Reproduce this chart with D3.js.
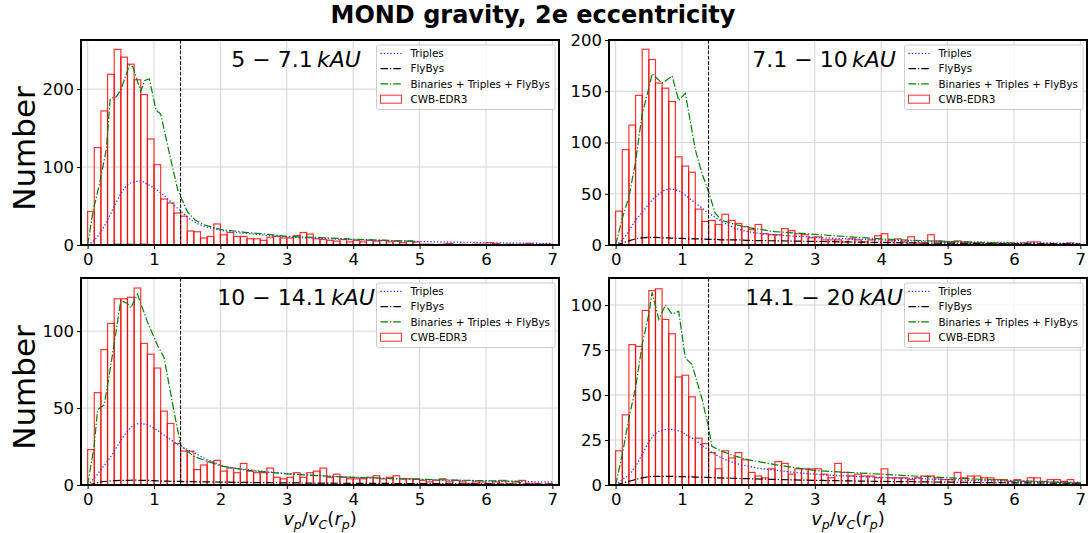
<!DOCTYPE html>
<html>
<head>
<meta charset="utf-8">
<script src="https://cdn.jsdelivr.net/npm/d3@7"></script>
<style>
  body { margin: 0; background: #fff; }
  svg { font-family: "DejaVu Sans", sans-serif; }
</style>
</head>
<body>
<div id="chart"></div>
<script>
// ---- data ----
var figTitle = "MOND gravity, 2e eccentricity";
var legendLabels = ["Triples", "FlyBys", "Binaries + Triples + FlyBys", "CWB-EDR3"];
var xTicks = [0, 1, 2, 3, 4, 5, 6, 7];
var binWidth = 0.1;     // histogram bins start at 0
var cutX = 1.4;         // vertical dashed line

// x positions of the model curves (Triples, FlyBys)
var lineX = [0, 0.1, 0.2, 0.3, 0.4, 0.5, 0.6, 0.7, 0.8, 0.9, 1.0, 1.1, 1.2, 1.3, 1.4, 1.5, 1.6, 1.8, 2.0,
             2.5, 3.0, 3.5, 4.0, 4.5, 5.0, 5.5, 6.0, 6.5, 7.0];

// 5 - 7.1 kAU
var tlRange = ["5", "7.1"];
var tlYTicks = [0, 100, 200];
var tlCounts = [43, 125, 172, 219, 251, 241, 232, 212, 193, 136,
                103, 59, 54, 41, 37, 18, 17, 9, 11, 27,
                13, 16, 11, 11, 8, 8, 6, 10, 11, 9,
                9, 12, 16, 14, 8, 7, 6, 5, 7, 4,
                6, 4, 6, 5, 6, 4, 5, 3, 5, 4,
                1, 1, 0, 1, 2, 0, 1, 0, 1, 1,
                3, 2, 0, 1, 0, 1, 2, 0, 1, 1];
var tlTriples = [0, 6, 17, 32, 49, 66, 77, 81, 82, 78, 73, 67, 60, 51, 44, 36, 30, 23, 19,
                 14, 10.5, 8.5, 6.8, 5.5, 4.5, 3.7, 3, 2.5, 2];
var tlFlybys = [0, 0.3, 0.5, 0.6, 0.7, 0.7, 0.7, 0.7, 0.7, 0.7, 0.6, 0.6, 0.6, 0.5, 0.5, 0.5, 0.5, 0.4, 0.4,
                0.4, 0.3, 0.3, 0.3, 0.2, 0.2, 0.2, 0.2, 0.1, 0.1];
var tlTotalX = [0, 0.08, 0.18, 0.28, 0.34, 0.43, 0.5, 0.63, 0.68, 0.8, 0.86, 0.93, 1.03, 1.1, 1.23, 1.36,
                1.5, 1.62, 1.75, 2.0, 2.4, 2.8, 3.0, 3.5, 4.0, 4.5, 4.9, 4.95, 7.0];
var tlTotal = [0, 43, 79, 122, 188, 190, 199, 231, 229, 197, 211, 213, 173, 168, 118, 70,
               43, 32, 26, 20, 16, 13, 11, 9.5, 7.5, 6, 5, 0, 0];

// 7.1 - 10 kAU
var trRange = ["7.1", "10"];
var trYTicks = [0, 50, 100, 150, 200];
var trCounts = [33, 93, 117, 146, 191, 181, 158, 153, 140, 86,
                77, 71, 35, 23, 24, 20, 30, 24, 21, 18,
                15, 20, 11, 10, 10, 16, 14, 11, 10, 7,
                8, 5, 5, 5, 3, 6, 5, 3, 5, 9,
                11, 4, 6, 3, 8, 2, 2, 10, 4, 3,
                3, 4, 3, 2, 2, 1, 2, 2, 1, 2,
                1, 2, 3, 3, 1, 1, 0, 1, 2, 0];
var trTriples = [0, 5, 14, 24, 32, 40, 47, 52, 54.5, 54, 51, 46, 41, 36, 31, 27, 23, 16.5, 13,
                 9.5, 7.5, 6, 5, 4, 3.3, 2.8, 2.3, 2, 1.6];
var trFlybys = [0, 2, 4, 6, 7, 7.5, 7.5, 7, 7, 6.5, 6.5, 6, 6, 6, 5.5, 5.5, 5, 5, 4.5,
                4, 3.5, 3, 2.5, 2, 1.8, 1.5, 1.3, 1.1, 1];
var trTotalX = [0, 0.1, 0.2, 0.3, 0.4, 0.5, 0.55, 0.7, 0.75, 0.85, 0.95, 1.05, 1.2, 1.3, 1.4, 1.5,
                1.6, 1.8, 2.0, 2.4, 2.8, 3.0, 3.5, 4.0, 4.5, 5.0, 5.5, 6.0, 6.1, 7.0];
var trTotal = [0, 26, 47, 81, 128, 153, 167, 158, 160, 165, 141, 148, 93, 70, 52, 31,
               24, 20, 17, 13, 11.4, 10.4, 8, 6, 4.5, 3.5, 2.5, 1.6, 0, 0];

// 10 - 14.1 kAU
var blRange = ["10", "14.1"];
var blYTicks = [0, 50, 100];
var blCounts = [23, 60, 88, 105, 121, 121, 122, 128, 92, 85,
                76, 48, 40, 27, 22, 22, 10, 13, 15, 16,
                9, 11, 8, 14, 9, 8, 8, 11, 5, 4,
                5, 8, 5, 8, 9, 11, 5, 7, 5, 4,
                4, 4, 5, 6, 4, 5, 6, 4, 4, 4,
                3, 2, 3, 4, 2, 3, 2, 1, 2, 2,
                1, 2, 3, 1, 2, 3, 1, 1, 0, 1];
var blTriples = [0, 4.5, 10, 15.5, 22, 29, 35, 39, 40, 39, 37, 34, 31, 28, 25, 23, 21, 16.5, 13,
                 9.5, 7.5, 6, 5, 4.2, 3.6, 3, 2.6, 2.2, 2];
var blFlybys = [0, 1, 2, 2.5, 2.8, 3, 3, 3.2, 3, 3, 2.8, 2.6, 2.5, 2.4, 2.3, 2.2, 2.1, 2, 1.9,
                1.6, 1.4, 1.2, 1.1, 1, 0.9, 0.8, 0.7, 0.6, 0.5];
var blTotalX = [0, 0.1, 0.15, 0.25, 0.35, 0.5, 0.6, 0.65, 0.75, 0.9, 1.05, 1.15, 1.3, 1.4, 1.45,
                1.6, 1.8, 2.0, 2.4, 2.8, 3.0, 3.5, 4.0, 4.5, 5.0, 5.5, 6.0, 6.5, 6.55, 7.0];
var blTotal = [0, 26, 49, 52, 78, 120, 118, 115, 124, 106, 91, 83, 48, 26, 24,
               18.6, 15.4, 12.5, 9.5, 8, 7.2, 6, 5, 4.3, 3.7, 3.2, 2.8, 2.4, 0, 0];

// 14.1 - 20 kAU
var brRange = ["14.1", "20"];
var brYTicks = [0, 25, 50, 75, 100];
var brCounts = [19, 39, 78, 77, 97, 108, 109, 92, 84, 60,
                61, 49, 26, 23, 18, 9, 19, 15, 18, 14,
                7, 5, 4, 9, 13, 12, 6, 9, 9, 9,
                9, 6, 4, 12, 7, 5, 6, 5, 5, 4,
                9, 4, 4, 4, 3, 4, 5, 5, 4, 3,
                3, 7, 4, 5, 5, 4, 4, 3, 3, 2,
                3, 2, 4, 4, 2, 3, 3, 2, 3, 1];
var brTriples = [0, 3, 5.8, 10.4, 17, 24, 28.5, 30.5, 31, 30.5, 29.4, 27, 25, 22, 19.6, 17, 15, 12.2, 10.4,
                 7.8, 6, 5, 4.2, 3.6, 3, 2.5, 2.1, 1.8, 1.5];
var brFlybys = [0, 1, 2, 3, 4, 4.6, 4.8, 4.8, 4.8, 4.7, 4.6, 4.5, 4.4, 4.3, 4.2, 4, 3.9, 3.7, 3.5,
                3, 2.6, 2.3, 2, 1.8, 1.6, 1.4, 1.2, 1.1, 1];
var brTotalX = [0, 0.1, 0.2, 0.3, 0.4, 0.5, 0.55, 0.65, 0.75, 0.85, 0.95, 1.05, 1.15, 1.3, 1.4, 1.45,
                1.6, 1.8, 2.0, 2.4, 2.8, 3.0, 3.5, 4.0, 4.5, 5.0, 5.5, 6.0, 6.5, 7.0];
var brTotal = [0, 17, 37, 54, 78, 95, 107, 92, 100, 95, 96.5, 70.5, 67, 48, 32, 21.5,
               18.7, 16, 14, 11.3, 9.1, 8, 7, 6, 5, 4, 3.2, 2.5, 1.8, 1];

// ---- layout ----
var W = 1088, H = 533;
var panels = [
  {id: "tl", left: 81, right: 559, top: 40, bottom: 245, ymax: 263, yTicks: tlYTicks, counts: tlCounts,
   triples: tlTriples, flybys: tlFlybys, totalX: tlTotalX, total: tlTotal, range: tlRange, ylab: true, xlab: false},
  {id: "tr", left: 609, right: 1087, top: 40, bottom: 245, ymax: 200, yTicks: trYTicks, counts: trCounts,
   triples: trTriples, flybys: trFlybys, totalX: trTotalX, total: trTotal, range: trRange, ylab: false, xlab: false},
  {id: "bl", left: 81, right: 559, top: 278, bottom: 485, ymax: 134.5, yTicks: blYTicks, counts: blCounts,
   triples: blTriples, flybys: blFlybys, totalX: blTotalX, total: blTotal, range: blRange, ylab: true, xlab: true},
  {id: "br", left: 609, right: 1087, top: 278, bottom: 485, ymax: 115, yTicks: brYTicks, counts: brCounts,
   triples: brTriples, flybys: brFlybys, totalX: brTotalX, total: brTotal, range: brRange, ylab: false, xlab: true}
];

var svg = d3.select("#chart").append("svg")
  .attr("width", W)
  .attr("height", H);

svg.append("text")
  .attr("x", 533)
  .attr("y", 23)
  .attr("text-anchor", "middle")
  .style("font-weight", "bold")
  .style("font-size", "24px")
  .text(figTitle);

function drawPanel(p) {
  var x = d3.scaleLinear().domain([-0.1, 7.1]).range([p.left, p.right]);
  var y = d3.scaleLinear().domain([0, p.ymax]).range([p.bottom, p.top]);
  var g = svg.append("g");

  svg.append("clipPath").attr("id", "clip-" + p.id)
    .append("rect")
    .attr("x", p.left).attr("y", p.top)
    .attr("width", p.right - p.left).attr("height", p.bottom - p.top);

  // grid
  g.selectAll(".vgrid").data(xTicks).enter().append("line")
    .attr("x1", function(d) { return x(d); }).attr("x2", function(d) { return x(d); })
    .attr("y1", p.top).attr("y2", p.bottom)
    .style("stroke", "#d3d3d3").style("stroke-width", 1);
  g.selectAll(".hgrid").data(p.yTicks).enter().append("line")
    .attr("x1", p.left).attr("x2", p.right)
    .attr("y1", function(d) { return y(d); }).attr("y2", function(d) { return y(d); })
    .style("stroke", "#d3d3d3").style("stroke-width", 1);

  var plot = g.append("g").attr("clip-path", "url(#clip-" + p.id + ")");

  // histogram (unfilled bars)
  plot.selectAll("rect.bar").data(p.counts).enter().append("rect")
    .attr("class", "bar")
    .attr("x", function(d, i) { return x(i * binWidth); })
    .attr("width", x(binWidth) - x(0))
    .attr("y", function(d) { return y(d); })
    .attr("height", function(d) { return y(0) - y(d); })
    .style("fill", "none")
    .style("stroke", "#ff0000")
    .style("stroke-opacity", 0.8)
    .style("stroke-width", 1.2);

  var smooth = d3.line()
    .x(function(d) { return x(d[0]); })
    .y(function(d) { return y(d[1]); })
    .curve(d3.curveMonotoneX);
  var straight = d3.line()
    .x(function(d) { return x(d[0]); })
    .y(function(d) { return y(d[1]); });

  plot.append("path")
    .datum(d3.zip(lineX, p.triples))
    .attr("d", smooth)
    .style("fill", "none").style("stroke", "#3333ff").style("stroke-width", 1.3)
    .style("stroke-dasharray", "1.3,2");
  plot.append("path")
    .datum(d3.zip(lineX, p.flybys))
    .attr("d", smooth)
    .style("fill", "none").style("stroke", "#000").style("stroke-width", 1.2)
    .style("stroke-dasharray", "7.5,2,1.3,2");
  plot.append("path")
    .datum(d3.zip(p.totalX, p.total))
    .attr("d", straight)
    .style("fill", "none").style("stroke", "#008000").style("stroke-width", 1.2)
    .style("stroke-dasharray", "7.5,2,1.3,2");

  // cut line
  plot.append("line")
    .attr("x1", x(cutX)).attr("x2", x(cutX))
    .attr("y1", p.top).attr("y2", p.bottom)
    .style("stroke", "#000").style("stroke-width", 1)
    .style("stroke-dasharray", "3.7,1.6");

  // axes
  var xa = g.append("g")
    .attr("transform", "translate(0," + p.bottom + ")")
    .call(d3.axisBottom(x).tickValues(xTicks).tickSize(4).tickPadding(4).tickFormat(d3.format("d")));
  var ya = g.append("g")
    .attr("transform", "translate(" + p.left + ",0)")
    .call(d3.axisLeft(y).tickValues(p.yTicks).tickSize(4).tickPadding(3).tickFormat(d3.format("d")));
  [xa, ya].forEach(function(a) {
    a.select(".domain").remove();
    a.selectAll("text").style("font-size", "16.5px").style("font-family", "DejaVu Sans").style("fill", "#000");
    a.selectAll("line").style("stroke", "#000").style("stroke-width", 1);
  });

  // frame
  g.append("rect")
    .attr("x", p.left).attr("y", p.top)
    .attr("width", p.right - p.left).attr("height", p.bottom - p.top)
    .style("fill", "none").style("stroke", "#000").style("stroke-width", 2);

  // range label, e.g. 5 - 7.1 kAU
  var lab = g.append("text")
    .attr("x", p.left + 0.45 * (p.right - p.left))
    .attr("y", p.top + 27)
    .attr("text-anchor", "middle")
    .style("font-size", "22px");
  lab.append("tspan").text(p.range[0] + " \u2212 " + p.range[1] + "\u2009");
  lab.append("tspan").style("font-style", "italic").text("kAU");

  // legend
  var lg = g.append("g");
  var frame = lg.append("rect")
    .attr("rx", 2).attr("ry", 2)
    .style("fill", "#fff").style("fill-opacity", 0.8)
    .style("stroke", "#cccccc").style("stroke-width", 1);
  var rowY = function(i) { return 8.3 + 15.3 * i; };
  var maxW = 0;
  legendLabels.forEach(function(t, i) {
    var tx = lg.append("text")
      .attr("x", 34).attr("y", rowY(i)).attr("dy", "0.35em")
      .style("font-size", "10.4px")
      .text(t);
    maxW = Math.max(maxW, tx.node().getComputedTextLength());
  });
  var hs = [
    {stroke: "#3333ff", dash: "1.3,2"},
    {stroke: "#000", dash: "7.5,2,1.3,2"},
    {stroke: "#008000", dash: "7.5,2,1.3,2"}
  ];
  hs.forEach(function(h, i) {
    lg.append("line")
      .attr("x1", 4).attr("x2", 25).attr("y1", rowY(i)).attr("y2", rowY(i))
      .style("stroke", h.stroke).style("stroke-width", 1.2).style("stroke-dasharray", h.dash);
  });
  lg.append("rect")
    .attr("x", 4).attr("y", rowY(3) - 4).attr("width", 21).attr("height", 8)
    .style("fill", "none").style("stroke", "#ff0000").style("stroke-opacity", 0.8);
  var bw = 34 + maxW + 5;
  frame.attr("x", 0).attr("y", 0).attr("width", bw).attr("height", 64.5);
  lg.attr("transform", "translate(" + (p.right - 4 - bw) + "," + (p.top + 5) + ")");

  // axis titles
  if (p.ylab) {
    svg.append("text")
      .attr("transform", "translate(35," + ((p.top + p.bottom) / 2 + 6) + ") rotate(-90)")
      .attr("text-anchor", "middle")
      .style("font-size", "31px")
      .text("Number");
  }
  if (p.xlab) {
    var xl = svg.append("text")
      .attr("x", (p.left + p.right) / 2)
      .attr("y", 525)
      .attr("text-anchor", "middle")
      .style("font-size", "18px");
    xl.append("tspan").style("font-style", "italic").text("v");
    xl.append("tspan").style("font-style", "italic").style("font-size", "12.6px").attr("dy", 3.5).text("p");
    xl.append("tspan").attr("dy", -3.5).text("/");
    xl.append("tspan").style("font-style", "italic").text("v");
    xl.append("tspan").style("font-style", "italic").style("font-size", "12.6px").attr("dy", 3.5).text("C");
    xl.append("tspan").attr("dy", -3.5).text("(");
    xl.append("tspan").style("font-style", "italic").text("r");
    xl.append("tspan").style("font-style", "italic").style("font-size", "12.6px").attr("dy", 3.5).text("p");
    xl.append("tspan").attr("dy", -3.5).text(")");
  }
}

panels.forEach(drawPanel);
</script>
</body>
</html>
